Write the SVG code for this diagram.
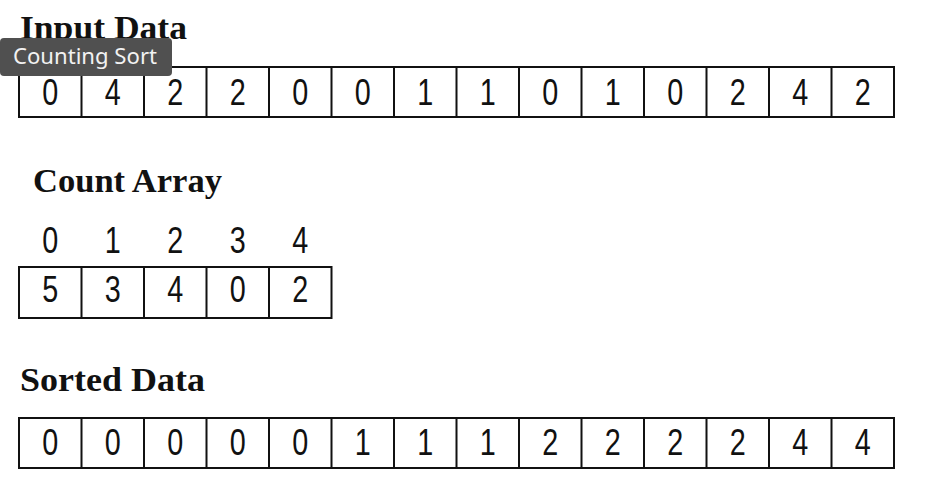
<svg xmlns="http://www.w3.org/2000/svg" width="930" height="492" viewBox="0 0 930 492">
<style>
.title{font-family:"Liberation Serif","Times New Roman",serif;font-weight:bold;font-size:33px;fill:#111;}
.cell{fill:#fff;stroke:#111;stroke-width:2;}
.num{font-family:"Liberation Sans",Arial,sans-serif;font-size:36px;fill:#111;text-anchor:middle;}
.tip{fill:#505050;}
.tiptext{font-family:"Noto Sans","Liberation Sans",sans-serif;font-size:21px;fill:#f2f2f2;}
</style>
<rect width="930" height="492" fill="#fff"/>

<g id="input-array">
<text class="title" x="20" y="39" textLength="167" lengthAdjust="spacingAndGlyphs">Input Data</text>
<rect class="cell" x="19" y="67" width="875" height="50"/>
<path d="M81.5 67V117M144 67V117M206.5 67V117M269 67V117M331.5 67V117M394 67V117M456.5 67V117M519 67V117M581.5 67V117M644 67V117M706.5 67V117M769 67V117M831.5 67V117" stroke="#111" stroke-width="2" fill="none"/>
<g class="num">
<text x="50.25" y="105" textLength="16" lengthAdjust="spacingAndGlyphs">0</text><text x="112.75" y="105" textLength="16" lengthAdjust="spacingAndGlyphs">4</text><text x="175.25" y="105" textLength="16" lengthAdjust="spacingAndGlyphs">2</text><text x="237.75" y="105" textLength="16" lengthAdjust="spacingAndGlyphs">2</text><text x="300.25" y="105" textLength="16" lengthAdjust="spacingAndGlyphs">0</text><text x="362.75" y="105" textLength="16" lengthAdjust="spacingAndGlyphs">0</text><text x="425.25" y="105" textLength="16" lengthAdjust="spacingAndGlyphs">1</text><text x="487.75" y="105" textLength="16" lengthAdjust="spacingAndGlyphs">1</text><text x="550.25" y="105" textLength="16" lengthAdjust="spacingAndGlyphs">0</text><text x="612.75" y="105" textLength="16" lengthAdjust="spacingAndGlyphs">1</text><text x="675.25" y="105" textLength="16" lengthAdjust="spacingAndGlyphs">0</text><text x="737.75" y="105" textLength="16" lengthAdjust="spacingAndGlyphs">2</text><text x="800.25" y="105" textLength="16" lengthAdjust="spacingAndGlyphs">4</text><text x="862.75" y="105" textLength="16" lengthAdjust="spacingAndGlyphs">2</text>
</g>
</g>

<g id="count-array">
<text class="title" x="33" y="192" textLength="189" lengthAdjust="spacingAndGlyphs">Count Array</text>
<g class="num">
<text x="50.25" y="253" textLength="16" lengthAdjust="spacingAndGlyphs">0</text><text x="112.75" y="253" textLength="16" lengthAdjust="spacingAndGlyphs">1</text><text x="175.25" y="253" textLength="16" lengthAdjust="spacingAndGlyphs">2</text><text x="237.75" y="253" textLength="16" lengthAdjust="spacingAndGlyphs">3</text><text x="300.25" y="253" textLength="16" lengthAdjust="spacingAndGlyphs">4</text>
</g>
<rect class="cell" x="19" y="267" width="312.5" height="51"/>
<path d="M81.5 267V318M144 267V318M206.5 267V318M269 267V318" stroke="#111" stroke-width="2" fill="none"/>
<g class="num">
<text x="50.25" y="302" textLength="16" lengthAdjust="spacingAndGlyphs">5</text><text x="112.75" y="302" textLength="16" lengthAdjust="spacingAndGlyphs">3</text><text x="175.25" y="302" textLength="16" lengthAdjust="spacingAndGlyphs">4</text><text x="237.75" y="302" textLength="16" lengthAdjust="spacingAndGlyphs">0</text><text x="300.25" y="302" textLength="16" lengthAdjust="spacingAndGlyphs">2</text>
</g>
</g>

<g id="sorted-array">
<text class="title" x="20" y="391" textLength="185" lengthAdjust="spacingAndGlyphs">Sorted Data</text>
<rect class="cell" x="19" y="418" width="875" height="50"/>
<path d="M81.5 418V468M144 418V468M206.5 418V468M269 418V468M331.5 418V468M394 418V468M456.5 418V468M519 418V468M581.5 418V468M644 418V468M706.5 418V468M769 418V468M831.5 418V468" stroke="#111" stroke-width="2" fill="none"/>
<g class="num">
<text x="50.25" y="455" textLength="16" lengthAdjust="spacingAndGlyphs">0</text><text x="112.75" y="455" textLength="16" lengthAdjust="spacingAndGlyphs">0</text><text x="175.25" y="455" textLength="16" lengthAdjust="spacingAndGlyphs">0</text><text x="237.75" y="455" textLength="16" lengthAdjust="spacingAndGlyphs">0</text><text x="300.25" y="455" textLength="16" lengthAdjust="spacingAndGlyphs">0</text><text x="362.75" y="455" textLength="16" lengthAdjust="spacingAndGlyphs">1</text><text x="425.25" y="455" textLength="16" lengthAdjust="spacingAndGlyphs">1</text><text x="487.75" y="455" textLength="16" lengthAdjust="spacingAndGlyphs">1</text><text x="550.25" y="455" textLength="16" lengthAdjust="spacingAndGlyphs">2</text><text x="612.75" y="455" textLength="16" lengthAdjust="spacingAndGlyphs">2</text><text x="675.25" y="455" textLength="16" lengthAdjust="spacingAndGlyphs">2</text><text x="737.75" y="455" textLength="16" lengthAdjust="spacingAndGlyphs">2</text><text x="800.25" y="455" textLength="16" lengthAdjust="spacingAndGlyphs">4</text><text x="862.75" y="455" textLength="16" lengthAdjust="spacingAndGlyphs">4</text>
</g>
</g>

<g id="connectors"></g>

<g id="tooltip">
<rect class="tip" x="0" y="38" width="172" height="38" rx="4"/>
<text class="tiptext" x="13" y="64" textLength="144" lengthAdjust="spacingAndGlyphs">Counting Sort</text>
</g>
</svg>
